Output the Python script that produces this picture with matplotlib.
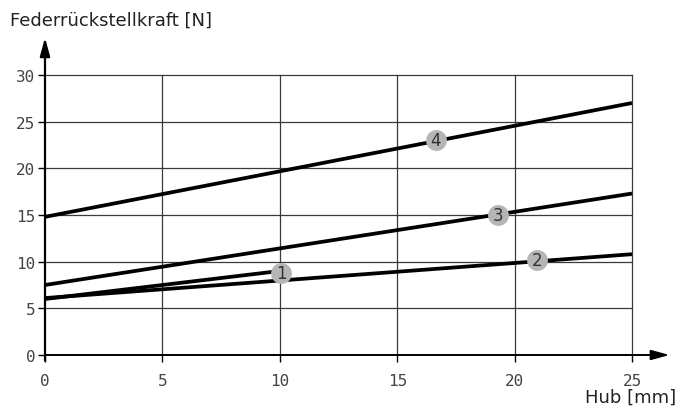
import matplotlib
matplotlib.use("Agg")
import matplotlib.pyplot as plt

# spring lines: stroke [mm] vs. restoring force [N]
line_ids = ["1", "2", "3", "4"]
line_x = [[0, 10], [0, 25], [0, 25], [0, 25]]
line_y = [[6.0, 9.0], [6.1, 10.8], [7.5, 17.3], [14.8, 27.0]]

# numbered badges on the lines
badge_x = [10.05, 20.95, 19.3, 16.65]
badge_y = [8.8, 10.15, 15.05, 23.0]

x_ticks = [0, 5, 10, 15, 20, 25]
y_ticks = [0, 5, 10, 15, 20, 25, 30]

W, H = 681, 410
fig = plt.figure(figsize=(W / 100, H / 100), dpi=100)
ax = fig.add_axes([45 / W, (H - 356) / H, (632 - 45) / W, (356 - 76) / H])
ax.set_xlim(0, 25)
ax.set_ylim(0, 30)

for s in ax.spines.values():
    s.set_visible(False)

# grid
for xv in x_ticks[1:]:
    ax.axvline(xv, color="#3a3a3a", lw=0.9, zorder=1, clip_on=False)
for yv in y_ticks[1:]:
    ax.axhline(yv, color="#3a3a3a", lw=0.9, zorder=1, clip_on=False)

# axes with arrows
ax.annotate("", xy=(26.6, 0), xytext=(0, 0), xycoords="data",
            arrowprops=dict(arrowstyle="-|>,head_length=1.1,head_width=0.3",
                            color="black", lw=1.4, shrinkA=0, shrinkB=0),
            annotation_clip=False, zorder=3)
ax.annotate("", xy=(0, 34.0), xytext=(0, -0.6), xycoords="data",
            arrowprops=dict(arrowstyle="-|>,head_length=1.1,head_width=0.3",
                            color="black", lw=1.6, shrinkA=0, shrinkB=0),
            annotation_clip=False, zorder=3)

for xs, ys in zip(line_x, line_y):
    ax.plot(xs, ys, color="black", lw=2.7, solid_capstyle="butt", zorder=4)

for lab, bx, by in zip(line_ids, badge_x, badge_y):
    ax.plot(bx, by, "o", ms=15, color="#b5b5b5", mec="none", zorder=5, clip_on=False)
    ax.text(bx, by, lab, ha="center", va="center", fontsize=12,
            color="#333333", family="DejaVu Sans", zorder=6)

ax.set_xticks(x_ticks)
ax.set_yticks(y_ticks)
ax.tick_params(axis="both", direction="out", length=5, width=1, color="black",
               labelsize=11.5, labelcolor="#444444")
ax.tick_params(axis="x", pad=8)
ax.tick_params(axis="y", pad=2)
for t in ax.get_xticklabels() + ax.get_yticklabels():
    t.set_family("DejaVu Sans Mono")

fig.text(10 / W, 1 - 21 / H, "Federrückstellkraft [N]", ha="left", va="center",
         fontsize=13, color="#222222")
fig.text(676 / W, 1 - 398 / H, "Hub [mm]", ha="right", va="center",
         fontsize=13, color="#222222")

fig.savefig("out.png", dpi=100)
